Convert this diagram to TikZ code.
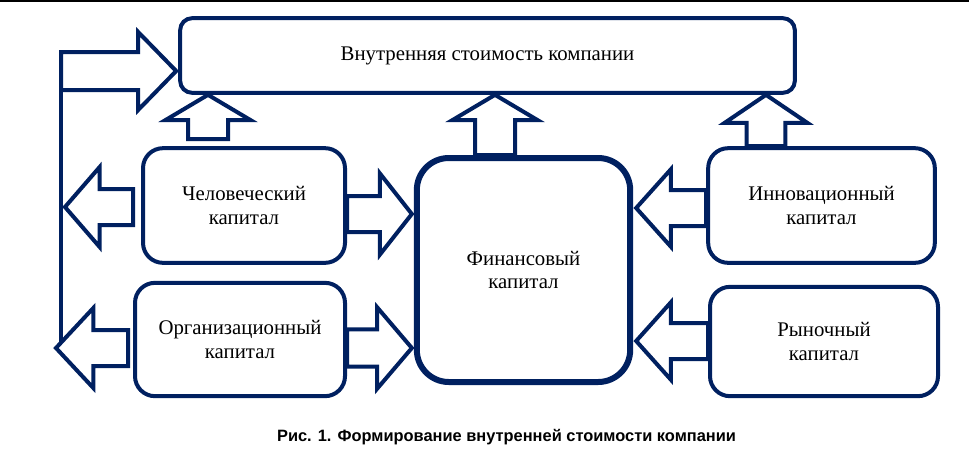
\documentclass[tikz,border=0pt]{standalone}
\usepackage{fontspec}
\setmainfont{Liberation Serif}
\newfontfamily\capfont{Liberation Sans}
\usetikzlibrary{calc}

\definecolor{navy}{HTML}{002060}

\tikzset{
  box/.style={draw=navy, line width=3pt, rounded corners=15pt, align=center,
    inner sep=0pt, font=\fontsize{15.6}{17.5}\selectfont},
  fatline/.style={draw=navy, line width=3pt, fill=white, line join=miter},
}

% block arrow: from, tip, shaft half width, head half width, head length
\newcommand{\fatarrow}[5]{%
  \path ($(#2)!#5!(#1)$) coordinate (fa-base);
  \draw[fatline] ($(#1)!#3!90:(#2)$) -- ($(fa-base)!#3!90:(#2)$)
    -- ($(fa-base)!#4!90:(#2)$) -- (#2) -- ($(fa-base)!#4!-90:(#2)$)
    -- ($(fa-base)!#3!-90:(#2)$) -- ($(#1)!#3!-90:(#2)$) -- cycle;
}

\begin{document}
\begin{tikzpicture}[x=0.75pt, y=-0.75pt]
    \useasboundingbox (0,0) rectangle (969,454);

    % Trait en haut
    \draw[line width=1.5pt] (0,1) -- (969,1);

    % Blocs
    \node[box, rounded corners=9pt, minimum width=461pt, minimum height=56pt]
      (value) at (487.5,55.5) {Внутренняя стоимость компании};
    \node[box, minimum width=151.5pt, minimum height=86pt]
      (human) at (244,205.5) {Человеческий\\капитал};
    \node[box, minimum width=157.5pt, minimum height=85pt]
      (organiz) at (240,339.5) {Организационный\\капитал};
    \node[box, line width=4.5pt, rounded corners=24pt, minimum width=160pt, minimum height=168pt]
      (finance) at (523.5,270) {Финансовый\\капитал};
    \node[box, minimum width=170pt, minimum height=86pt]
      (innov) at (821.5,205.5) {Инновационный\\капитал};
    \node[box, minimum width=171pt, minimum height=82pt]
      (market) at (824,341.5) {Рыночный\\капитал};

    % Ligne de retour a gauche
    \coordinate (spine-top) at (61,52);
    \coordinate (spine-bot) at (61,350);
    \draw[navy, line width=3pt] (spine-top) -- (spine-bot);

    % Fleche vers la valeur
    \coordinate (sp-a) at (61,71);
    \coordinate (sp-b) at ($(value.west |- sp-a)+(-2,0)$);
    \fatarrow{sp-a}{sp-b}{14.25pt}{29.25pt}{28.5pt}

    % Fleches vers le haut
    \coordinate (up1-s) at ($(human.north)+(-36,-7)$);
    \coordinate (up1-t) at (up1-s |- value.south);
    \fatarrow{up1-s}{up1-t}{15pt}{32pt}{19pt}
    \coordinate (up2-s) at ($(finance.north)+(-28.5,0)$);
    \coordinate (up2-t) at (up2-s |- value.south);
    \fatarrow{up2-s}{up2-t}{15pt}{32pt}{19pt}
    \coordinate (up3-s) at ($(innov.north)+(-55.5,0)$);
    \coordinate (up3-t) at (up3-s |- value.south);
    \fatarrow{up3-s}{up3-t}{14.5pt}{31pt}{21pt}

    % Fleches vers la ligne de gauche
    \coordinate (l1-s) at ($(human.west)+(-8,1.5)$);
    \coordinate (l1-t) at ($(spine-top |- l1-s)+(4,0)$);
    \fatarrow{l1-s}{l1-t}{13.5pt}{30pt}{26pt}
    \coordinate (l2-s) at ($(organiz.west)+(-5,8.5)$);
    \coordinate (l2-t) at ($(spine-top |- l2-s)+(-5,0)$);
    \fatarrow{l2-s}{l2-t}{13.5pt}{30pt}{28pt}

    % Fleches vers le capital financier
    \coordinate (f1-s) at ($(human.east)+(0,8.5)$);
    \coordinate (f1-t) at ($(finance.west |- f1-s)+(-2,0)$);
    \fatarrow{f1-s}{f1-t}{13.5pt}{30.5pt}{24pt}
    \coordinate (f2-s) at ($(organiz.east)+(0,8.5)$);
    \coordinate (f2-t) at ($(finance.west |- f2-s)+(-2,0)$);
    \fatarrow{f2-s}{f2-t}{14pt}{30.5pt}{26pt}
    \coordinate (f3-s) at ($(innov.west)+(0,2.5)$);
    \coordinate (f3-t) at ($(finance.east |- f3-s)+(3,0)$);
    \fatarrow{f3-s}{f3-t}{13.5pt}{29pt}{26pt}
    \coordinate (f4-s) at ($(market.west)+(0,-0.5)$);
    \coordinate (f4-t) at ($(finance.east |- f4-s)+(3,0)$);
    \fatarrow{f4-s}{f4-t}{13.5pt}{29pt}{26pt}

    % Legende
    \node[font=\capfont\bfseries\fontsize{12.3}{14}\selectfont] (caption) at (506.5,437)
      {Рис. 1. Формирование внутренней стоимости компании};

  \end{tikzpicture}
\end{document}
